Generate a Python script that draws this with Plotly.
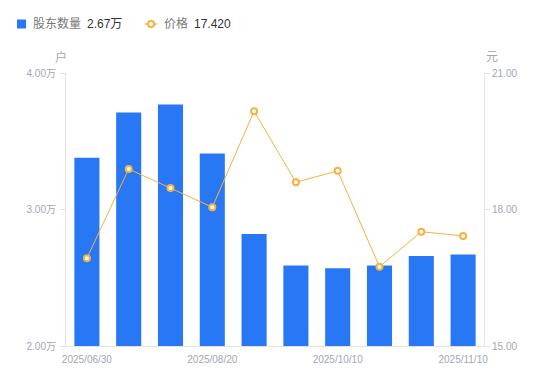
import plotly.graph_objects as go

dates = ["2025/06/30", "2025/07/10", "2025/07/31", "2025/08/20", "2025/08/29",
         "2025/09/19", "2025/10/10", "2025/10/20", "2025/10/31", "2025/11/10"]
holders = [3.38, 3.71, 3.77, 3.41, 2.82, 2.59, 2.57, 2.59, 2.66, 2.67]  # 万户
prices = [16.93, 18.89, 18.47, 18.05, 20.16, 18.60, 18.85, 16.74, 17.51, 17.42]
x_ticks = ["2025/06/30", "2025/08/20", "2025/10/10", "2025/11/10"]
left_ticks = [2, 3, 4]
right_ticks = [15, 18, 21]

FONT = "Liberation Sans, Noto Sans CJK SC, sans-serif"
BLUE = "#2878f5"
ORANGE = "#f8b13c"
GRAY = "#a3a6b4"

W, H = 550, 381
L, R, T, B = 66, 66, 73, 35
PW, PH = W - L - R, H - T - B


def px(x):
    return (x - L) / PW


def py(y):
    return (H - B - y) / PH


fig = go.Figure()
fig.add_trace(go.Bar(
    x=dates, y=holders, name="股东数量",
    marker=dict(color=BLUE, line=dict(width=0)), width=0.6, yaxis="y",
))
fig.add_trace(go.Scatter(
    x=dates, y=prices, name="价格",
    mode="lines+markers", yaxis="y2",
    line=dict(color=ORANGE, width=1),
    marker=dict(symbol="circle", size=6, color="white", line=dict(color=ORANGE, width=2)),
))

axis_common = dict(showgrid=False, showline=True, linecolor="#e3e3e3", linewidth=1,
                   zeroline=False, automargin=False, tickfont=dict(size=10, color=GRAY))

shapes = [
    # legend icons
    dict(type="rect", xref="paper", yref="paper", x0=px(17), x1=px(26), y0=py(28.5), y1=py(19.5),
         fillcolor=BLUE, line=dict(width=0), layer="above"),
    dict(type="line", xref="paper", yref="paper", x0=px(145), x1=px(157), y0=py(24), y1=py(24),
         line=dict(color=ORANGE, width=1.5), layer="above"),
    dict(type="circle", xref="paper", yref="paper", x0=px(148), x1=px(154), y0=py(27), y1=py(21),
         fillcolor="white", line=dict(color=ORANGE, width=2), layer="above"),
]

annotations = [
    dict(text="股东数量", x=px(31), y=py(24), font=dict(size=12, color="#777")),
    dict(text=f"{holders[-1]:.2f}万", x=px(85), y=py(24), font=dict(size=12, color="#333")),
    dict(text="价格", x=px(162), y=py(24), font=dict(size=12, color="#777")),
    dict(text=f"{prices[-1]:.3f}", x=px(192), y=py(24), font=dict(size=12, color="#333")),
    dict(text="户", x=px(53), y=py(57), font=dict(size=12, color=GRAY)),
    dict(text="元", x=px(484), y=py(57), font=dict(size=12, color=GRAY)),
]
for a in annotations:
    a.update(xref="paper", yref="paper", showarrow=False, xanchor="left", yanchor="middle")

fig.update_layout(
    width=W, height=H,
    margin=dict(l=L, r=R, t=T, b=B),
    paper_bgcolor="white", plot_bgcolor="white",
    font=dict(family=FONT, size=10, color=GRAY),
    showlegend=False,
    xaxis=dict(type="category", tickmode="array", tickvals=x_ticks, ticktext=x_ticks,
               range=[-0.5, len(dates) - 0.5], ticks="", ticklabelstandoff=4, **axis_common),
    yaxis=dict(range=[2, 4], tickmode="array", tickvals=left_ticks,
               ticktext=["%.2f万" % v for v in left_ticks],
               ticks="outside", ticklen=5, tickcolor="#e3e3e3", ticklabelstandoff=2,
               **axis_common),
    yaxis2=dict(range=[15, 21], overlaying="y", side="right", tickmode="array",
                tickvals=right_ticks, ticktext=["%.2f" % v for v in right_ticks],
                ticks="outside", ticklen=5, tickcolor="#e3e3e3", **axis_common),
    shapes=shapes,
    annotations=annotations,
)

fig.write_html("out.html", config={"displayModeBar": False},
               post_script="document.body.style.margin='0';")
